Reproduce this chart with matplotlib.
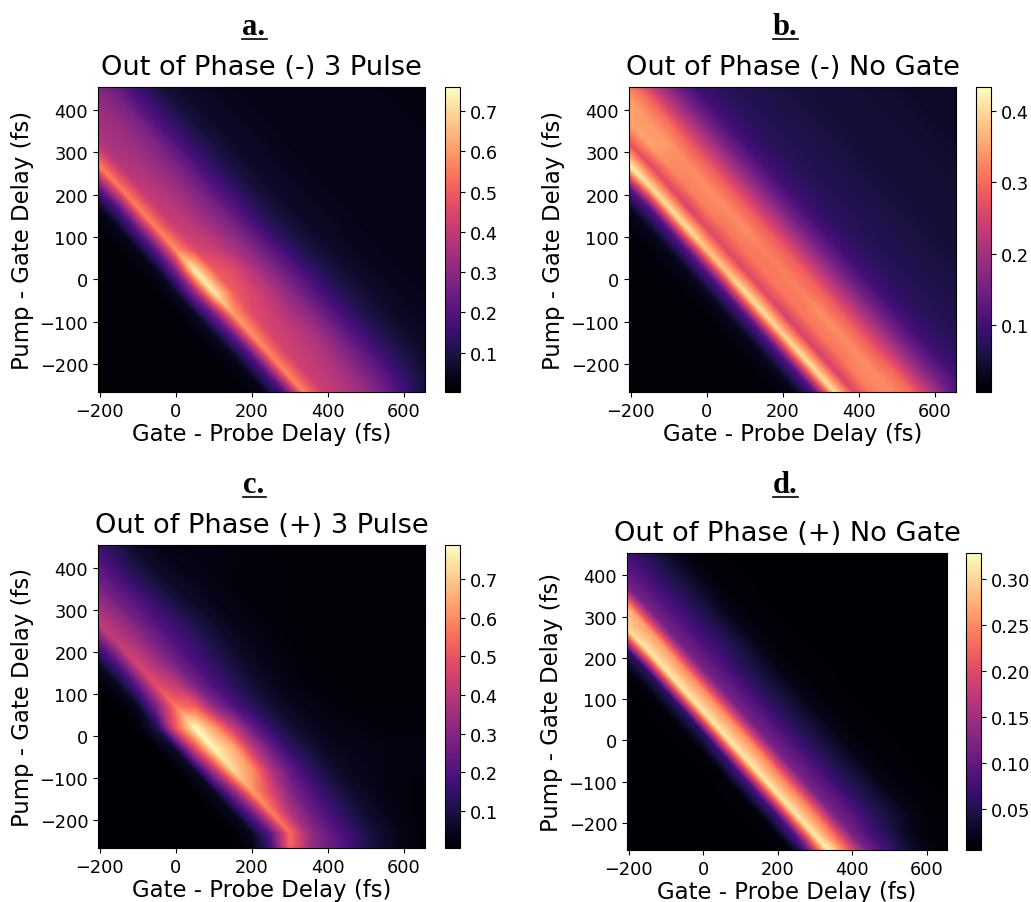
import matplotlib
matplotlib.use("Agg")
import matplotlib.pyplot as plt
import numpy as np
from matplotlib.cm import ScalarMappable
from matplotlib.colors import Normalize
from matplotlib.lines import Line2D
from matplotlib.tri import Triangulation

W, H = 1031, 903
delay_x = [-205, -150, -100, -50, 0, 50, 100, 150, 200, 250, 300, 350, 400, 450, 500, 550, 600, 655]
delay_y = [470, 420, 370, 320, 270, 220, 170, 120, 70, 20, -30, -80, -130, -180, -230, -280]
x_ticks = [-200, 0, 200, 400, 600]
y_ticks = [-200, -100, 0, 100, 200, 300, 400]

panel_a = [
 [.27,.20,.13,.08,.06,.05,.04,.035,.03,.03,.03,.03,.03,.03,.03,.025,.025,.025],
 [.32,.27,.19,.13,.08,.06,.05,.04,.035,.03,.03,.03,.03,.03,.03,.03,.025,.025],
 [.35,.32,.27,.19,.13,.08,.06,.05,.04,.035,.03,.03,.03,.03,.03,.03,.03,.025],
 [.38,.35,.32,.27,.19,.13,.085,.06,.05,.04,.035,.03,.03,.03,.03,.03,.03,.03],
 [.55,.38,.36,.32,.27,.19,.13,.085,.06,.05,.04,.035,.03,.03,.03,.03,.03,.03],
 [.22,.54,.40,.37,.33,.27,.19,.13,.085,.06,.05,.04,.035,.03,.03,.03,.03,.03],
 [.04,.20,.55,.41,.38,.33,.27,.20,.13,.085,.06,.05,.04,.035,.03,.03,.03,.03],
 [.015,.04,.22,.55,.42,.39,.34,.28,.20,.13,.09,.06,.05,.04,.035,.03,.03,.03],
 [.01,.015,.04,.22,.58,.45,.42,.36,.29,.21,.14,.09,.065,.05,.04,.035,.03,.03],
 [.01,.01,.015,.04,.25,.73,.50,.46,.38,.30,.22,.15,.10,.07,.05,.04,.035,.03],
 [.01,.01,.01,.015,.05,.30,.72,.50,.44,.38,.30,.22,.15,.10,.07,.05,.04,.035],
 [.01,.01,.01,.01,.015,.05,.25,.60,.46,.42,.36,.30,.22,.15,.10,.07,.05,.04],
 [.01,.01,.01,.01,.01,.015,.05,.22,.58,.44,.41,.37,.30,.22,.15,.10,.07,.05],
 [.01,.01,.01,.01,.01,.01,.015,.04,.20,.56,.43,.40,.36,.29,.22,.15,.10,.06],
 [.01,.01,.01,.01,.01,.01,.01,.015,.04,.20,.56,.42,.39,.35,.28,.21,.14,.08],
 [.01,.01,.01,.01,.01,.01,.01,.01,.015,.04,.18,.56,.42,.38,.33,.26,.17,.08],
]
panel_b = [
 [.30,.22,.15,.10,.08,.07,.065,.06,.055,.05,.05,.05,.045,.045,.04,.04,.04,.04],
 [.35,.30,.22,.15,.10,.08,.07,.065,.06,.055,.05,.05,.05,.045,.045,.04,.04,.04],
 [.35,.34,.30,.22,.15,.10,.08,.07,.065,.06,.055,.05,.05,.05,.045,.045,.04,.04],
 [.27,.35,.34,.29,.22,.15,.10,.08,.07,.065,.06,.055,.05,.05,.05,.045,.045,.04],
 [.42,.26,.33,.33,.29,.22,.15,.10,.08,.07,.065,.06,.055,.05,.05,.05,.045,.045],
 [.13,.40,.26,.32,.33,.29,.22,.15,.10,.08,.07,.065,.06,.055,.05,.05,.05,.045],
 [.03,.12,.40,.25,.32,.33,.29,.22,.15,.10,.08,.07,.065,.06,.055,.05,.05,.05],
 [.015,.03,.12,.40,.26,.31,.33,.29,.22,.15,.10,.08,.07,.065,.06,.055,.05,.05],
 [.012,.015,.03,.12,.38,.26,.31,.32,.29,.22,.15,.10,.08,.07,.065,.06,.055,.05],
 [.012,.012,.015,.03,.12,.38,.26,.31,.32,.29,.22,.15,.10,.08,.07,.065,.06,.055],
 [.012,.012,.012,.015,.03,.12,.40,.26,.31,.32,.29,.22,.15,.10,.08,.07,.065,.06],
 [.012,.012,.012,.012,.015,.03,.12,.40,.25,.31,.33,.29,.22,.15,.10,.08,.07,.065],
 [.012,.012,.012,.012,.012,.015,.03,.12,.39,.25,.31,.33,.29,.22,.15,.10,.08,.07],
 [.012,.012,.012,.012,.012,.012,.015,.03,.12,.40,.25,.31,.33,.29,.22,.15,.10,.08],
 [.012,.012,.012,.012,.012,.012,.012,.015,.03,.12,.40,.25,.32,.33,.30,.22,.15,.10],
 [.012,.012,.012,.012,.012,.012,.012,.012,.015,.03,.12,.40,.26,.32,.33,.30,.22,.13],
]
panel_c = [
 [.15,.09,.05,.03,.02,.025,.025,.02,.02,.015,.015,.015,.012,.012,.012,.012,.012,.012],
 [.20,.13,.08,.05,.035,.03,.03,.025,.02,.02,.015,.015,.012,.012,.012,.012,.012,.012],
 [.26,.19,.13,.08,.055,.04,.03,.02,.02,.02,.015,.015,.012,.012,.012,.012,.012,.012],
 [.34,.26,.20,.14,.09,.06,.04,.03,.02,.02,.015,.015,.012,.012,.012,.012,.012,.012],
 [.42,.35,.27,.20,.15,.10,.065,.04,.03,.02,.015,.015,.012,.012,.012,.012,.012,.012],
 [.20,.42,.36,.27,.20,.15,.10,.06,.04,.025,.02,.015,.015,.012,.012,.012,.012,.012],
 [.05,.20,.45,.37,.27,.19,.14,.09,.055,.035,.025,.02,.015,.015,.012,.012,.012,.012],
 [.012,.05,.22,.48,.42,.28,.19,.13,.08,.05,.03,.02,.02,.015,.015,.012,.012,.012],
 [.01,.012,.05,.28,.56,.52,.32,.20,.13,.08,.05,.035,.025,.02,.015,.015,.015,.015],
 [.008,.01,.012,.10,.50,.78,.62,.42,.24,.14,.08,.05,.035,.03,.025,.02,.02,.02],
 [.006,.008,.01,.012,.07,.45,.77,.66,.42,.25,.14,.09,.05,.04,.035,.03,.03,.03],
 [.006,.006,.008,.01,.012,.06,.38,.72,.60,.38,.23,.14,.08,.05,.04,.03,.025,.025],
 [.006,.006,.006,.008,.01,.012,.05,.30,.62,.46,.30,.20,.13,.08,.05,.03,.025,.02],
 [.006,.006,.006,.006,.008,.01,.012,.05,.25,.57,.38,.26,.18,.12,.07,.04,.025,.02],
 [.006,.006,.006,.006,.006,.008,.01,.012,.05,.22,.54,.34,.24,.17,.10,.06,.03,.02],
 [.006,.006,.006,.006,.006,.006,.008,.01,.03,.15,.52,.36,.26,.20,.12,.07,.035,.02],
]
panel_d = [
 [.07,.045,.025,.012,.009,.008,.007,.007,.007,.007,.007,.007,.007,.007,.007,.007,.007,.007],
 [.09,.065,.045,.025,.012,.009,.008,.007,.007,.007,.007,.007,.007,.007,.007,.007,.007,.007],
 [.12,.09,.065,.045,.025,.012,.009,.008,.007,.007,.007,.007,.007,.007,.007,.007,.007,.007],
 [.28,.12,.09,.065,.045,.022,.012,.009,.008,.007,.007,.007,.007,.007,.007,.007,.007,.007],
 [.30,.26,.12,.09,.065,.045,.022,.012,.009,.008,.007,.007,.007,.007,.007,.007,.007,.007],
 [.06,.31,.26,.12,.09,.065,.045,.022,.012,.009,.008,.007,.007,.007,.007,.007,.007,.007],
 [.012,.06,.31,.25,.12,.09,.06,.04,.02,.012,.009,.008,.007,.007,.007,.007,.007,.007],
 [.008,.012,.06,.31,.25,.12,.09,.06,.04,.02,.012,.009,.008,.007,.007,.007,.007,.007],
 [.007,.008,.012,.06,.31,.25,.12,.09,.06,.04,.02,.012,.009,.008,.007,.007,.007,.007],
 [.007,.007,.008,.012,.06,.31,.25,.12,.09,.06,.04,.02,.012,.009,.008,.007,.007,.007],
 [.007,.007,.007,.008,.012,.07,.31,.25,.12,.09,.06,.04,.02,.012,.009,.008,.007,.007],
 [.007,.007,.007,.007,.008,.012,.08,.31,.24,.12,.09,.06,.04,.02,.012,.009,.008,.007],
 [.007,.007,.007,.007,.007,.008,.012,.08,.31,.24,.12,.09,.06,.04,.02,.012,.009,.008],
 [.007,.007,.007,.007,.007,.007,.008,.012,.08,.31,.24,.12,.09,.06,.04,.02,.012,.009],
 [.007,.007,.007,.007,.007,.007,.007,.008,.012,.09,.31,.23,.12,.08,.05,.025,.012,.009],
 [.007,.007,.007,.007,.007,.007,.007,.007,.008,.012,.12,.32,.22,.12,.08,.04,.02,.01],
]

letters = ["a.", "b.", "c.", "d."]
titles = ["Out of Phase (-) 3 Pulse", "Out of Phase (-) No Gate",
          "Out of Phase (+) 3 Pulse", "Out of Phase (+) No Gate"]
panels = [panel_a, panel_b, panel_c, panel_d]
vmins = [0.002, 0.006, 0.004, 0.005]
vmaxs = [0.76, 0.434, 0.788, 0.328]
cbar_ticks = [[.1, .2, .3, .4, .5, .6, .7], [.1, .2, .3, .4],
              [.1, .2, .3, .4, .5, .6, .7], [.05, .10, .15, .20, .25, .30]]
cbar_fmt = ["%.1f", "%.1f", "%.1f", "%.2f"]
ax_boxes = [(98, 425, 88, 393), (629, 956, 88, 393), (98, 425, 546, 849), (627, 947, 554, 851)]
cb_boxes = [(445, 460, 88, 393), (976, 991, 88, 393), (445, 460, 546, 849), (966, 981, 554, 851)]
letter_pos = [(254, 35, 242, 267), (785, 35, 773, 798), (254, 493, 243, 266), (785, 493, 773, 798)]


def frac(b):
    l, r, t, bt = b
    return [l / W, 1 - bt / H, (r - l) / W, (bt - t) / H]


# Triangles run along the diagonal bands, so the mesh follows the ridge.
gx, gy = np.meshgrid(delay_x, delay_y)
nr, nc = gx.shape
tris = []
for r in range(nr - 1):
    for c in range(nc - 1):
        a, b, d, e = r * nc + c, r * nc + c + 1, (r + 1) * nc + c, (r + 1) * nc + c + 1
        tris += [[a, b, e], [a, e, d]]
mesh = Triangulation(gx.ravel(), gy.ravel(), tris)

fig = plt.figure(figsize=(W / 100, H / 100), dpi=100)

for i in range(4):
    ax = fig.add_axes(frac(ax_boxes[i]))
    norm = Normalize(vmins[i], vmaxs[i])
    levels = np.linspace(vmins[i], vmaxs[i], 200)
    ax.tricontourf(mesh, np.ravel(panels[i]), levels=levels, cmap="magma", norm=norm,
                   extend="both", antialiased=False)
    ax.set_xlim(-205, 655)
    ax.set_ylim(-266, 454)
    ax.set_xticks(x_ticks)
    ax.set_yticks(y_ticks)
    ax.tick_params(labelsize=12.8)
    ax.set_xlabel("Gate - Probe Delay (fs)", fontsize=16.4, labelpad=1.5)
    ax.set_ylabel("Pump - Gate Delay (fs)", fontsize=16.4, labelpad=4)
    ax.set_title(titles[i], fontsize=19.6, pad=9.4)
    cax = fig.add_axes(frac(cb_boxes[i]))
    cb = fig.colorbar(ScalarMappable(norm=norm, cmap="magma"), cax=cax,
                      ticks=cbar_ticks[i], format=cbar_fmt[i])
    cb.ax.tick_params(labelsize=12.8)
    lx, ly, ul, ur = letter_pos[i]
    fig.text(lx / W, 1 - ly / H, letters[i], family="Liberation Serif", weight="bold",
             fontsize=22, ha="center", va="baseline")
    fig.add_artist(Line2D([ul / W, ur / W], [1 - (ly + 5) / H] * 2, color="black", lw=1.2))

fig.savefig("out.png", dpi=100)
